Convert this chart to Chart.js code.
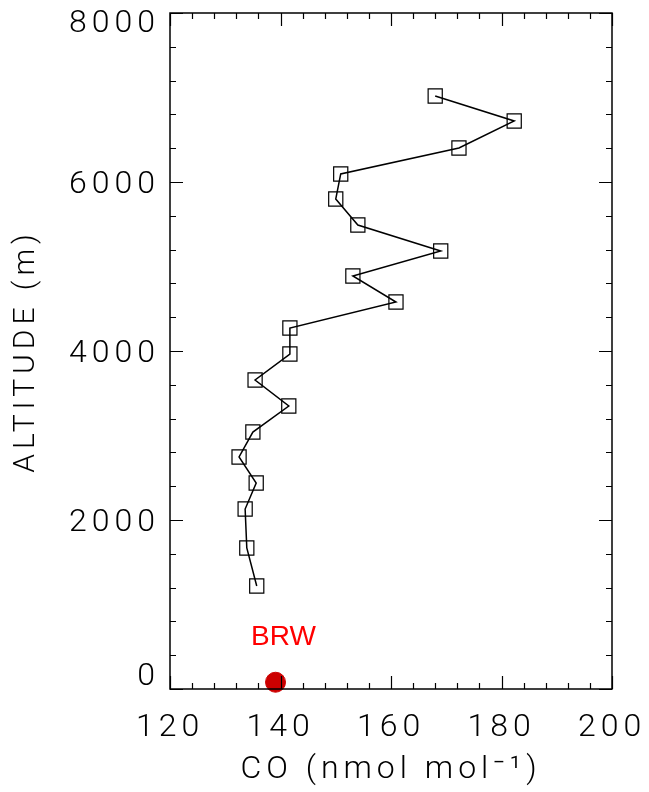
<!DOCTYPE html>
<html>
<head>
<meta charset="utf-8">
<script src="https://cdn.jsdelivr.net/npm/chart.js@4.4.1/dist/chart.umd.min.js"></script>
<style>
  html, body { margin: 0; padding: 0; background: #fff; }
  canvas { display: block; }
</style>
</head>
<body>
<canvas id="chart" width="649" height="792"></canvas>
<script>
// CO profile (nmol/mol) vs altitude (m)
const coValues = [135.7, 133.9, 133.6, 135.6, 132.5, 135.0, 141.5, 135.4, 141.7, 141.7,
  160.9, 153.1, 169.0, 154.0, 150.0, 150.9, 172.3, 182.3, 168.0];
const altitudes = [1219, 1669, 2130, 2438, 2746, 3041, 3349, 3657, 3964, 4272,
  4580, 4888, 5183, 5491, 5799, 6095, 6402, 6722, 7018];
const stationLabel = "BRW";
const stationCO = [139.1];
const stationAlt = [80];
const xTicks = [120, 140, 160, 180, 200];
const yTicks = [0, 2000, 4000, 6000, 8000];

const thinFont = "Roboto";

const profile = coValues.map((v, i) => ({ x: v, y: altitudes[i] }));
const station = stationCO.map((v, i) => ({ x: v, y: stationAlt[i] }));

// box, inward ticks on all four sides, y tick labels (end labels kept inside) and station label
const frame = {
  id: "frame",
  beforeDraw(chart) {
    chart.ctx.letterSpacing = "5px";
  },
  afterDraw(chart) {
    const { ctx, chartArea: a, scales } = chart;
    const xs = scales.x, ys = scales.y;
    ctx.save();
    ctx.letterSpacing = "0px";
    ctx.strokeStyle = "#000";
    ctx.lineWidth = 1.5;
    ctx.strokeRect(a.left, a.top, a.right - a.left, a.bottom - a.top);
    ctx.lineWidth = 1.2;
    ctx.beginPath();
    for (let v = xs.min; v <= xs.max; v += 4) {
      const px = Math.round(xs.getPixelForValue(v)) + 0.5;
      const len = v % 20 === 0 ? 13 : 6;
      ctx.moveTo(px, a.bottom); ctx.lineTo(px, a.bottom - len);
      ctx.moveTo(px, a.top); ctx.lineTo(px, a.top + len);
    }
    for (let v = ys.min; v <= ys.max; v += 400) {
      const py = Math.round(ys.getPixelForValue(v)) + 0.5;
      const len = v % 2000 === 0 ? 13 : 6;
      ctx.moveTo(a.left, py); ctx.lineTo(a.left + len, py);
      ctx.moveTo(a.right, py); ctx.lineTo(a.right - len, py);
    }
    ctx.stroke();

    ctx.fillStyle = "#000";
    ctx.letterSpacing = "5px";
    ctx.font = "300 32px " + thinFont;
    ctx.textAlign = "right";
    ctx.textBaseline = "middle";
    yTicks.forEach((v) => {
      const py = Math.min(Math.max(ys.getPixelForValue(v) + 3, a.top + 11), a.bottom - 12);
      ctx.fillText(String(v), a.left - 10, py);
    });

    ctx.letterSpacing = "0px";
    ctx.fillStyle = "#ff0000";
    ctx.font = "28px 'Liberation Sans', Arial, sans-serif";
    ctx.textAlign = "center";
    ctx.fillText(stationLabel, xs.getPixelForValue(stationCO[0]) + 8, ys.getPixelForValue(stationAlt[0]) - 45);
    ctx.restore();
  }
};

new Chart(document.getElementById("chart"), {
  type: "scatter",
  data: {
    datasets: [
      {
        data: profile,
        showLine: true,
        borderColor: "#000",
        borderWidth: 1.5,
        pointStyle: "rect",
        pointRadius: 10,
        pointBackgroundColor: "rgba(0,0,0,0)",
        pointBorderColor: "#000",
        pointBorderWidth: 1.2,
        clip: false,
      },
      {
        data: station,
        pointStyle: "circle",
        pointRadius: 10,
        pointBackgroundColor: "#cc0000",
        pointBorderColor: "#cc0000",
        clip: false,
      },
    ],
  },
  options: {
    responsive: false,
    animation: false,
    layout: { padding: { top: 13, right: 37, left: 0, bottom: 0 } },
    plugins: { legend: { display: false }, tooltip: { enabled: false } },
    scales: {
      x: {
        type: "linear",
        min: 120,
        max: 200,
        afterBuildTicks(scale) { scale.ticks = xTicks.map((v) => ({ value: v })); },
        afterFit(scale) {
          scale.height = 103;
          scale.paddingLeft = 0;
          scale.paddingRight = 0;
        },
        grid: { display: false, drawTicks: false },
        border: { display: false },
        ticks: {
          color: "#000", padding: 20, maxRotation: 0,
          callback: (v) => String(v),
          font: { family: thinFont, size: 32, weight: 300 },
        },
        title: {
          display: true,
          text: "CO (nmol mol\u207B\u00B9)",
          color: "#000",
          padding: { top: 0, bottom: 3 },
          font: { family: thinFont, size: 32, weight: 300 },
        },
      },
      y: {
        type: "linear",
        min: 0,
        max: 8000,
        afterBuildTicks(scale) { scale.ticks = yTicks.map((v) => ({ value: v })); },
        afterFit(scale) {
          scale.width = 170;
          scale.paddingTop = 0;
          scale.paddingBottom = 0;
        },
        grid: { display: false, drawTicks: false },
        border: { display: false },
        ticks: { display: false },
        title: {
          display: true,
          text: "ALTITUDE (m)",
          color: "#000",
          padding: { top: 8, bottom: 0 },
          font: { family: thinFont, size: 30, weight: 300 },
        },
      },
    },
  },
  plugins: [frame],
});
</script>
</body>
</html>
